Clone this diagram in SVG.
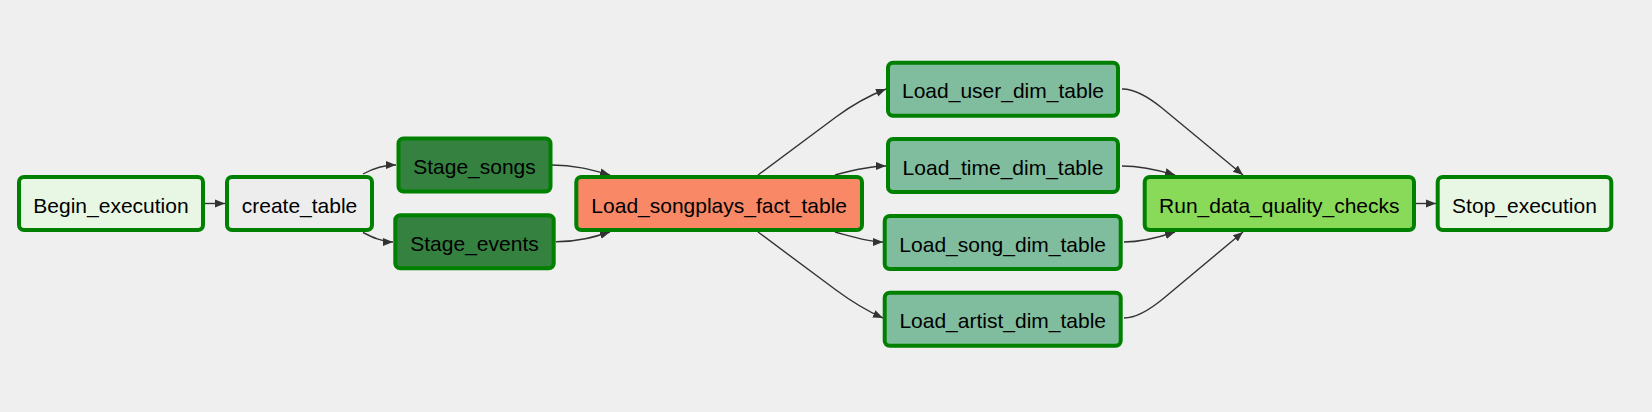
<svg xmlns="http://www.w3.org/2000/svg" width="1652" height="412" viewBox="0 0 1652 412">
<style>
.node rect{stroke:#008000;stroke-width:4}
.node text{font-family:"Liberation Sans",Arial,sans-serif;font-size:21px;fill:#000;text-anchor:middle}
.dummy{fill:#e8f7e4}
.pg{fill:#ededed}
.stage{fill:#358140}
.fact{fill:#f98866}
.dim{fill:#80bd9e}
.dq{fill:#89da59}
#edges path{fill:none;stroke:#333;stroke-width:1.4;marker-end:url(#arrow)}
</style>
<defs>
<marker id="arrow" markerUnits="userSpaceOnUse" markerWidth="10" markerHeight="10" viewBox="0 0 10 10" refX="10" refY="5" orient="auto">
<path d="M0,1 L10,5 L0,9 z" fill="#333"/>
</marker>
</defs>
<rect x="0" y="0" width="1652" height="412" fill="#efefef"/>
<g id="edges">
<path d="M205,203.5 L225,203.5"/>
<path d="M363,174 C372,169 383,165 396,165"/>
<path d="M363,232.5 C372,237 382,242 393,242"/>
<path d="M552,165 C575,165 592,170 610,175"/>
<path d="M556,241.8 C578,241.8 594,237 610,232"/>
<path d="M758,175 L836,117 Q860,99.2 886,89"/>
<path d="M835,175 C850,171 868,166 886,166"/>
<path d="M835,232 C850,236 868,242 883,242"/>
<path d="M758,232 L836,290 Q860,307.8 883,318"/>
<path d="M1122,89 Q1138,88.6 1162,108 L1243,175"/>
<path d="M1122,166 C1140,166 1158,170 1175,175"/>
<path d="M1124,242 C1142,242 1160,237 1175,232"/>
<path d="M1124,318 Q1140,318 1164,298 L1243,232"/>
<path d="M1416,203.5 L1436,203.5"/>
</g>
<g id="Begin_execution" class="node"><rect class="dummy" x="19" y="177" width="184" height="53" rx="5"/><text x="111" y="212.7">Begin_execution</text></g>
<g id="create_table" class="node"><rect class="pg" x="227" y="177" width="145" height="53" rx="5"/><text x="299.5" y="212.7">create_table</text></g>
<g id="Stage_songs" class="node"><rect class="stage" x="398.5" y="138.5" width="152" height="53" rx="5"/><text x="474.5" y="174.2">Stage_songs</text></g>
<g id="Stage_events" class="node"><rect class="stage" x="395.3" y="215.3" width="158.4" height="53" rx="5"/><text x="474.5" y="251">Stage_events</text></g>
<g id="Load_songplays_fact_table" class="node"><rect class="fact" x="576.3" y="177" width="285.7" height="53" rx="5"/><text x="719.2" y="212.7">Load_songplays_fact_table</text></g>
<g id="Load_user_dim_table" class="node"><rect class="dim" x="888" y="62.7" width="230" height="53" rx="5"/><text x="1003" y="98.4">Load_user_dim_table</text></g>
<g id="Load_time_dim_table" class="node"><rect class="dim" x="888" y="139" width="230" height="53" rx="5"/><text x="1003" y="174.7">Load_time_dim_table</text></g>
<g id="Load_song_dim_table" class="node"><rect class="dim" x="884.7" y="216" width="236" height="53" rx="5"/><text x="1002.7" y="251.7">Load_song_dim_table</text></g>
<g id="Load_artist_dim_table" class="node"><rect class="dim" x="884.7" y="292.7" width="236" height="53" rx="5"/><text x="1002.7" y="328.4">Load_artist_dim_table</text></g>
<g id="Run_data_quality_checks" class="node"><rect class="dq" x="1144.7" y="177" width="269.3" height="53" rx="5"/><text x="1279.3" y="212.7">Run_data_quality_checks</text></g>
<g id="Stop_execution" class="node"><rect class="dummy" x="1437.7" y="177" width="173.6" height="53" rx="5"/><text x="1524.5" y="212.7">Stop_execution</text></g>
</svg>
